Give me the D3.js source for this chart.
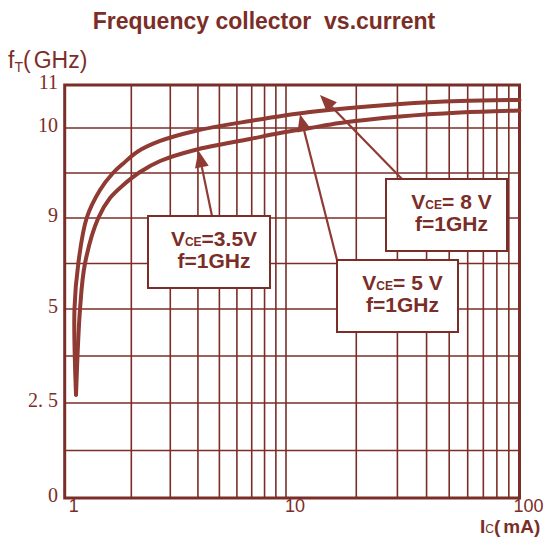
<!DOCTYPE html>
<html>
<head>
<meta charset="utf-8">
<script src="https://cdn.jsdelivr.net/npm/d3@7"></script>
<style>
  body { margin: 0; background: #fff; }
</style>
</head>
<body>
<div id="chart"></div>
<script>
// Collector current Ic (mA) and transition frequency fT (GHz)
const icUpper = [1.125, 1.107, 1.152, 1.257, 1.444, 1.653, 1.84, 2.14, 2.70, 3.88, 6.88, 12.67, 30.8, 55.6, 100];
const ftUpper = [2.72, 5.0, 7.0, 9.0, 9.311, 9.5, 9.606, 9.739, 9.856, 9.967, 10.163, 10.372, 10.558, 10.628, 10.651];
const icLower = [1.125, 1.173, 1.235, 1.418, 1.602, 1.84, 2.19, 2.70, 3.88, 6.88, 9.40, 12.67, 17.03, 30.8, 55.6, 100];
const ftLower = [2.72, 5.0, 7.0, 9.0, 9.222, 9.367, 9.511, 9.633, 9.756, 9.878, 9.944, 10.0, 10.116, 10.267, 10.36, 10.407];

// Axis ticks
const xLabels = [1, 10, 100];
const xMinor = [2, 3, 4, 5, 6, 7, 8, 9, 20, 30, 40, 50, 60, 70, 80, 90];
const yBreaks = [0, 2.5, 5, 9, 10, 11];
const yGrid = [1.25, 2.5, 3.75, 5, 7, 9, 9.5, 10];
const yLabels = ["0", "2. 5", "5", "9", "10", "11"];

// Annotations: condition text and the point each arrow points to
const noteVce = ["=3.5V", "= 5 V", "= 8 V"];
const noteFreq = ["f=1GHz", "f=1GHz", "f=1GHz"];
const noteTipIc = [4.02, 11.48, 13.98];
const noteTipFt = [9.75, 10.32, 10.77];

const width = 547;
const height = 540;
const ink = "#7b2e27";
const curveInk = "#8f3a32";
const sans = "'Liberation Sans', Arial, sans-serif";
const serif = "'Liberation Serif', 'Times New Roman', serif";

const svg = d3.select("#chart")
    .append("svg")
    .attr("width", width)
    .attr("height", height)
    .style("font-family", sans);

// Log scale on current, piecewise linear on frequency (the chart's axis is not uniform)
const x = d3.scaleLog()
    .domain([1, 10, 100])
    .range([64.7, 286, 519.5]);

const y = d3.scaleLinear()
    .domain(yBreaks)
    .range([498, 403, 309, 218, 128, 85]);

// Title
svg.append("text")
    .attr("x", 264)
    .attr("y", 29)
    .attr("text-anchor", "middle")
    .attr("font-size", 23)
    .attr("font-weight", "bold")
    .attr("fill", ink)
    .style("white-space", "pre")
    .text("Frequency collector  vs.current");

// y axis title
const yTitle = svg.append("text")
    .attr("x", 8)
    .attr("y", 68)
    .attr("font-size", 23)
    .attr("fill", ink);
yTitle.append("tspan").text("f");
yTitle.append("tspan").attr("font-size", 14).attr("dy", 4).text("T");
yTitle.append("tspan").attr("dy", -4).text("(");
yTitle.append("tspan").attr("dx", 3).text("GHz)");

// Grid
const grid = svg.append("g")
    .attr("stroke", ink)
    .attr("stroke-width", 1.6);

grid.selectAll("line.v")
    .data(xMinor.concat([10]))
    .enter().append("line")
    .attr("class", "v")
    .attr("x1", d => x(d))
    .attr("x2", d => x(d))
    .attr("y1", y(0))
    .attr("y2", y(11));

grid.selectAll("line.h")
    .data(yGrid)
    .enter().append("line")
    .attr("class", "h")
    .attr("x1", x(1))
    .attr("x2", x(100))
    .attr("y1", d => y(d))
    .attr("y2", d => y(d));

// Frame
svg.append("rect")
    .attr("x", x(1))
    .attr("y", y(11))
    .attr("width", x(100) - x(1))
    .attr("height", y(0) - y(11))
    .attr("fill", "none")
    .attr("stroke", ink)
    .attr("stroke-width", 3);

// Tick labels
svg.selectAll("text.ylab")
    .data(yBreaks)
    .enter().append("text")
    .attr("class", "ylab")
    .attr("x", 58)
    .attr("y", d => y(d) + 4)
    .attr("text-anchor", "end")
    .attr("font-size", 20)
    .attr("fill", ink)
    .style("font-family", serif)
    .style("white-space", "pre")
    .text((d, i) => yLabels[i]);

svg.selectAll("text.xlab")
    .data(xLabels)
    .enter().append("text")
    .attr("class", "xlab")
    .attr("x", d => x(d) + 9)
    .attr("y", 512)
    .attr("text-anchor", "middle")
    .attr("font-size", 18)
    .attr("fill", ink)
    .text(d => d);

// x axis title
const xTitle = svg.append("text")
    .attr("x", 480)
    .attr("y", 533)
    .attr("font-size", 19)
    .attr("font-weight", "bold")
    .attr("fill", ink);
xTitle.append("tspan").text("I");
xTitle.append("tspan").attr("font-size", 12).attr("font-weight", "normal").text("C");
xTitle.append("tspan").text("(");
xTitle.append("tspan").attr("dx", 3).text("mA)");

// Curves
const line = d3.line()
    .x(d => x(d[0]))
    .y(d => y(d[1]))
    .curve(d3.curveCatmullRom.alpha(0.5));

const series = [
    d3.zip(icUpper, ftUpper),
    d3.zip(icLower, ftLower)
];

svg.selectAll("path.curve")
    .data(series)
    .enter().append("path")
    .attr("class", "curve")
    .attr("d", line)
    .attr("fill", "none")
    .attr("stroke", curveInk)
    .attr("stroke-width", 4)
    .attr("stroke-linecap", "round");

// Annotation boxes: [left, top, width, height] and arrow tail points
const boxes = [[148, 216, 122, 72], [337, 260, 121, 72], [386, 179, 121, 72]];
const tails = [[212, 216], [337, 260], [402, 179]];

noteVce.forEach((v, i) => {
    const tip = [x(noteTipIc[i]), y(noteTipFt[i])];
    const tail = tails[i];
    const dx = tip[0] - tail[0];
    const dy = tip[1] - tail[1];
    const len = Math.hypot(dx, dy);
    const ux = dx / len, uy = dy / len;
    const headLen = 17, headHalf = 7;
    const base = [tip[0] - ux * headLen, tip[1] - uy * headLen];

    svg.append("line")
        .attr("x1", tail[0])
        .attr("y1", tail[1])
        .attr("x2", base[0])
        .attr("y2", base[1])
        .attr("stroke", curveInk)
        .attr("stroke-width", 2.2);

    svg.append("path")
        .attr("d", `M${tip[0]},${tip[1]}L${base[0] - uy * headHalf},${base[1] + ux * headHalf}L${base[0] + uy * headHalf},${base[1] - ux * headHalf}Z`)
        .attr("fill", curveInk);
});

boxes.forEach((b, i) => {
    svg.append("rect")
        .attr("x", b[0])
        .attr("y", b[1])
        .attr("width", b[2])
        .attr("height", b[3])
        .attr("fill", "#fff")
        .attr("stroke", ink)
        .attr("stroke-width", 2);

    const cx = b[0] + b[2] / 2 + 5;
    const t1 = svg.append("text")
        .attr("x", cx)
        .attr("y", b[1] + 30)
        .attr("text-anchor", "middle")
        .attr("font-size", 21)
        .attr("font-weight", "bold")
        .attr("fill", ink);
    t1.append("tspan").text("V");
    t1.append("tspan").attr("font-size", 12).text("CE");
    t1.append("tspan").text(noteVce[i]);

    svg.append("text")
        .attr("x", cx)
        .attr("y", b[1] + 52)
        .attr("text-anchor", "middle")
        .attr("font-size", 21)
        .attr("font-weight", "bold")
        .attr("fill", ink)
        .text(noteFreq[i]);
});
</script>
</body>
</html>
